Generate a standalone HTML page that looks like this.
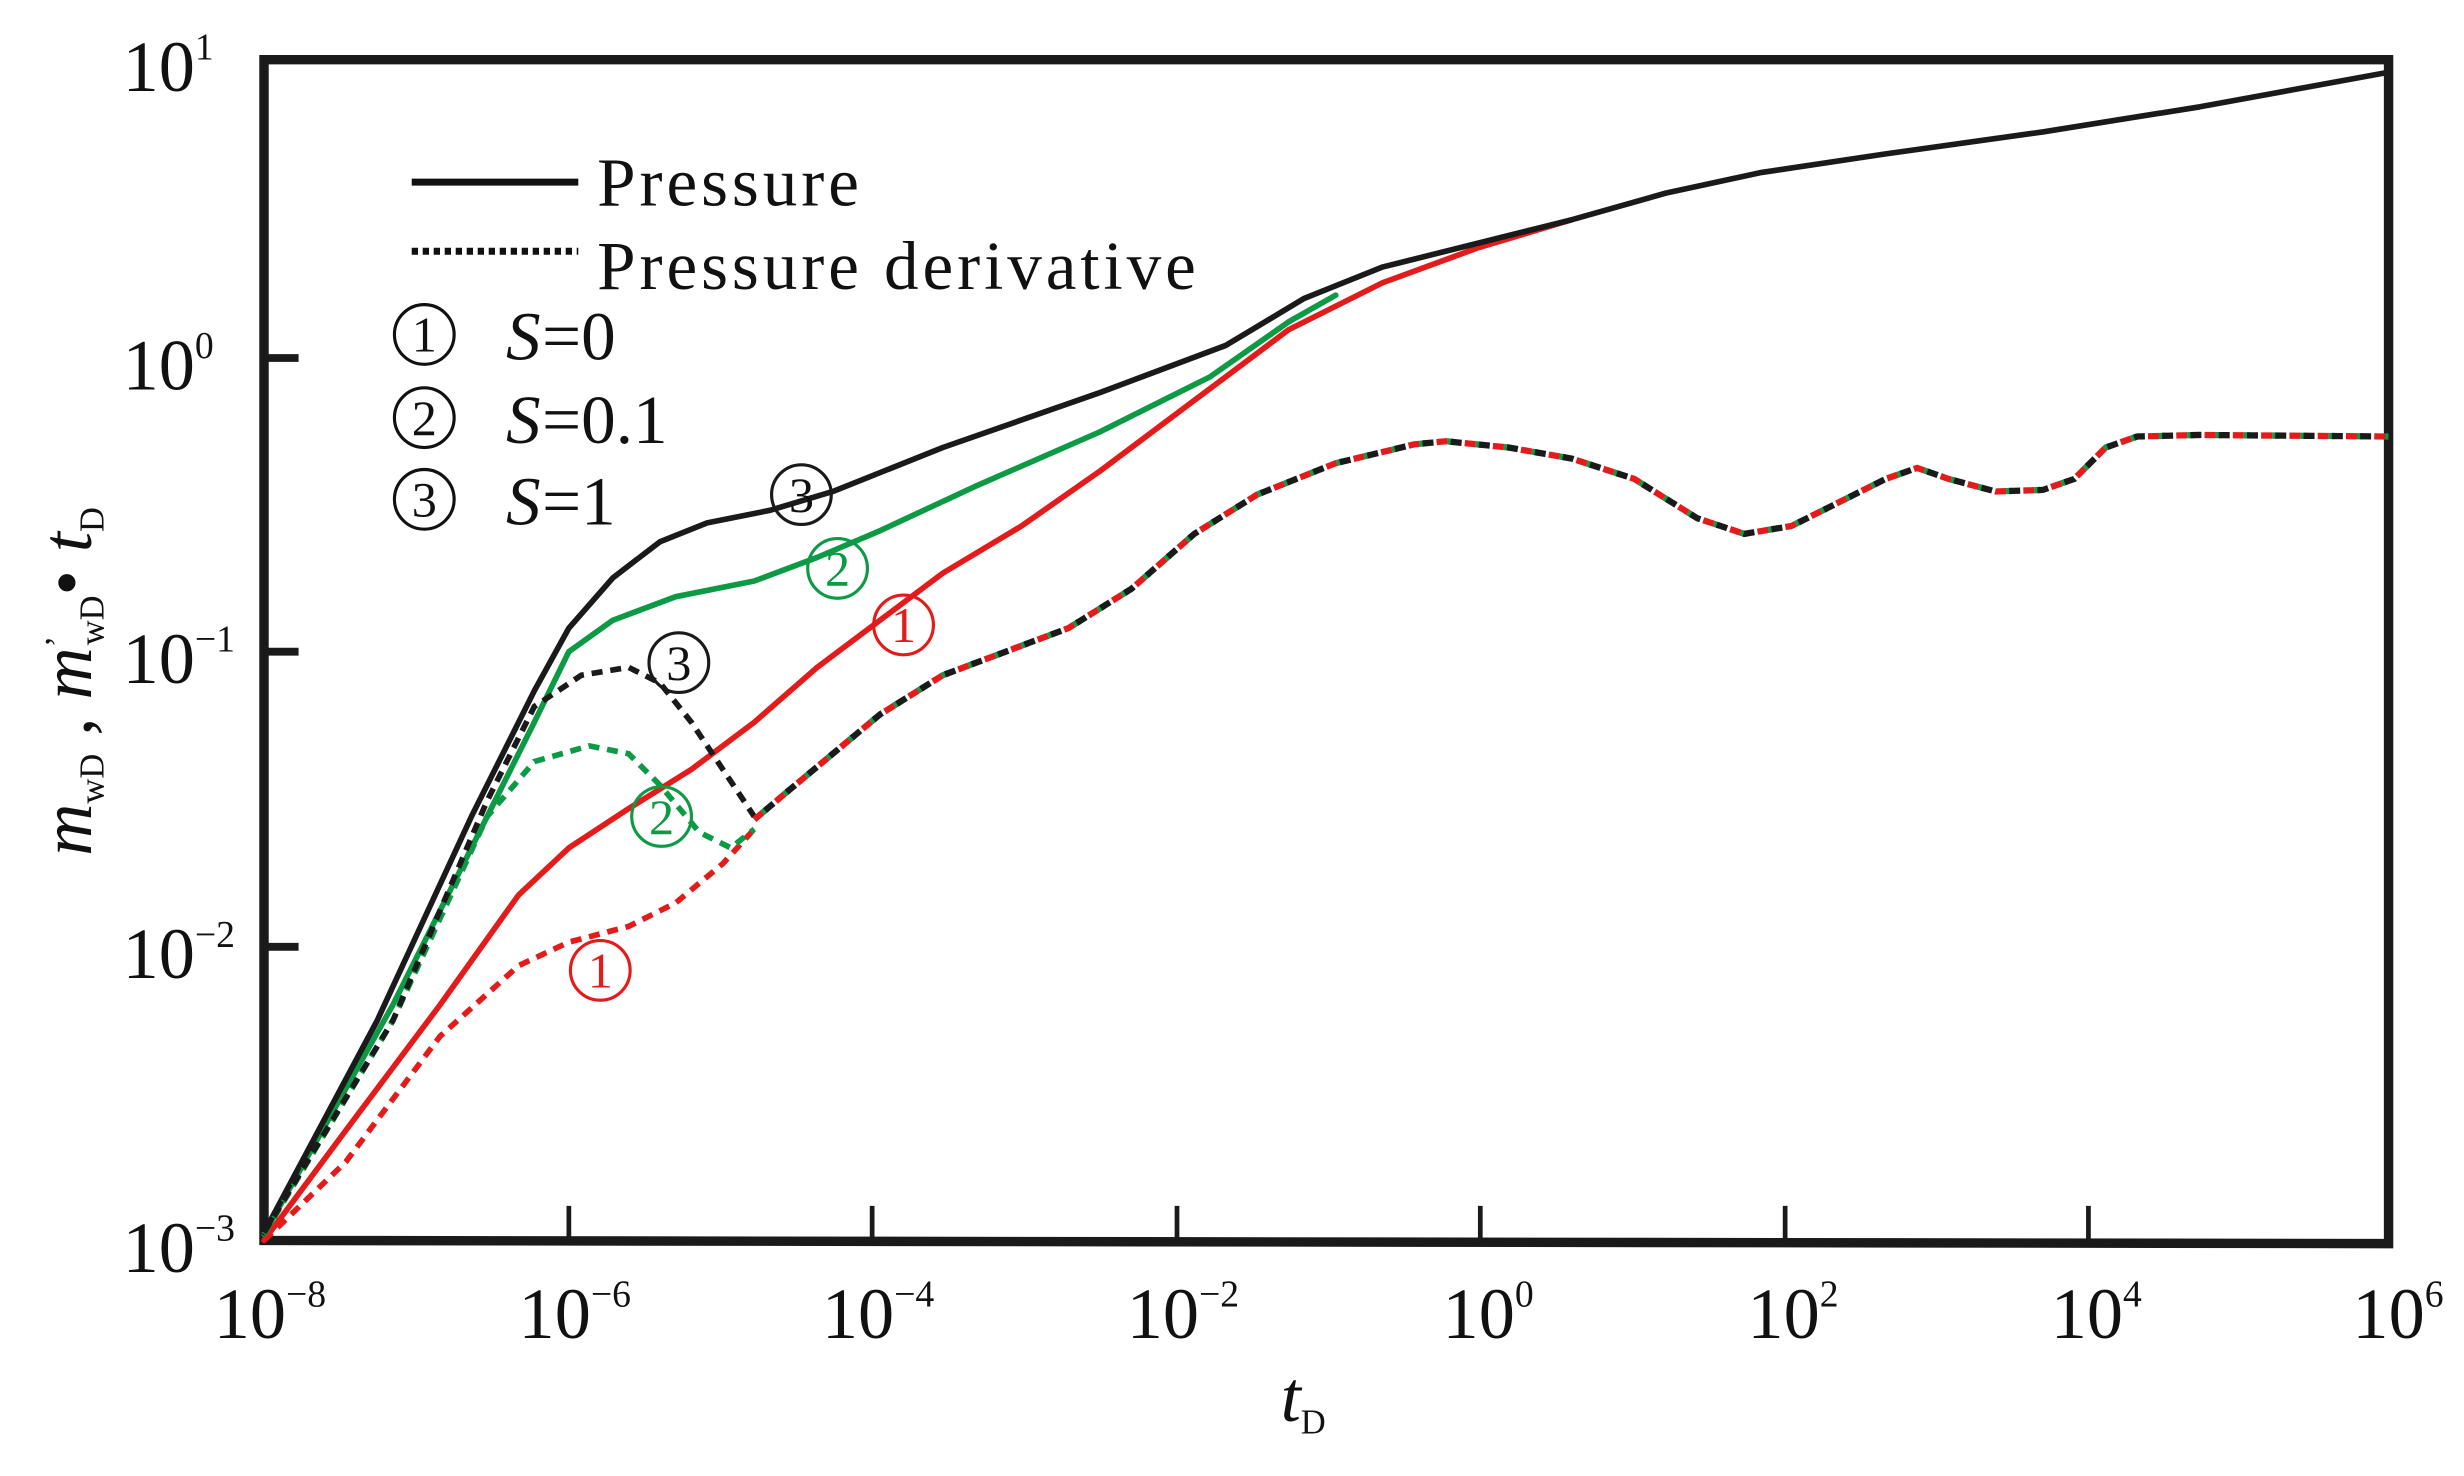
<!DOCTYPE html>
<html><head><meta charset="utf-8"><style>
html,body{margin:0;padding:0;background:#fff;}
svg{display:block;}
text{font-family:"Liberation Serif",serif;fill:#111;}
</style></head><body>
<svg width="2464" height="1476" viewBox="0 0 1568 940" preserveAspectRatio="none" xmlns="http://www.w3.org/2000/svg">
<defs>
<g id="cn"><circle r="19" fill="none" stroke-width="2"/></g>
</defs>
<rect width="1568" height="940" fill="#fff"/>
<!-- frame -->
<path d="M168,38 L1520,38 L1520,792 L168,790 Z" fill="none" stroke="#1a1a1a" stroke-width="6"/>
<g stroke="#1a1a1a" stroke-width="3">
<path d="M362,790V768M555,790V768M749,790V768M942,790V768M1136,790V768M1329,790V768"/>
<path d="M168,228H190M168,415H190M168,603H190" stroke-width="5"/>
</g>
<g font-size="46">
<text x="78" y="58">10<tspan font-size="24" dy="-20">1</tspan></text>
<text x="78" y="248">10<tspan font-size="24" dy="-20">0</tspan></text>
<text x="78" y="435">10<tspan font-size="24" dy="-20">−1</tspan></text>
<text x="78" y="623">10<tspan font-size="24" dy="-20">−2</tspan></text>
<text x="78" y="810">10<tspan font-size="24" dy="-20">−3</tspan></text>
</g>
<g font-size="46">
<text x="136" y="852">10<tspan font-size="24" dy="-20">−8</tspan></text>
<text x="330" y="852">10<tspan font-size="24" dy="-20">−6</tspan></text>
<text x="523" y="852">10<tspan font-size="24" dy="-20">−4</tspan></text>
<text x="717" y="852">10<tspan font-size="24" dy="-20">−2</tspan></text>
<text x="918" y="852">10<tspan font-size="24" dy="-20">0</tspan></text>
<text x="1112" y="852">10<tspan font-size="24" dy="-20">2</tspan></text>
<text x="1305" y="852">10<tspan font-size="24" dy="-20">4</tspan></text>
<text x="1497" y="852">10<tspan font-size="24" dy="-20">6</tspan></text>
</g>
<text x="815" y="905" font-size="46" font-style="italic">t<tspan font-size="22" font-style="normal" dy="8">D</tspan></text>
<text transform="translate(58,545) rotate(-90)" font-size="46"><tspan font-style="italic">m</tspan><tspan font-size="22" dy="8">wD</tspan><tspan dy="-8"> , </tspan><tspan font-style="italic">m</tspan><tspan font-size="22" dy="-14">’</tspan><tspan font-size="22" dy="22" dx="-6">wD</tspan><tspan dy="-8">• </tspan><tspan font-style="italic">t</tspan><tspan font-size="22" dy="8">D</tspan></text>
<!-- legend -->
<line x1="262" y1="116" x2="368" y2="116" stroke="#111" stroke-width="4.5"/>
<line x1="262" y1="160" x2="368" y2="160" stroke="#111" stroke-width="4.5" stroke-dasharray="4,3"/>
<g font-size="44" letter-spacing="2.5">
<text x="380" y="131">Pressure</text>
<text x="380" y="184">Pressure  derivative</text>
</g>
<g font-size="40" stroke="#111">
<use href="#cn" x="270" y="213"/><use href="#cn" x="270" y="266"/><use href="#cn" x="270" y="318"/>
</g>
<g font-size="32" text-anchor="middle">
<text x="270" y="224">1</text><text x="270" y="277">2</text><text x="270" y="329">3</text>
</g>
<g font-size="44">
<text x="322" y="229" font-style="italic">S</text><text x="345" y="229">=0</text>
<text x="322" y="282" font-style="italic">S</text><text x="345" y="282">=0.1</text>
<text x="322" y="334" font-style="italic">S</text><text x="345" y="334">=1</text>
</g>
<!-- pressure curves -->
<g fill="none" stroke-width="3.6" stroke-linejoin="round" stroke-linecap="round">
<polyline stroke="#e31b1b" points="168,790 220,720 280,640 330,570 362,540 400,515 440,490 480,460 520,425 560,395 600,365 650,335 700,300 760,255 820,210 880,180 940,158 1000,140"/>
<polyline stroke="#0d9a45" points="168,786 250,640 310,520 340,460 362,415 390,395 430,380 480,370 520,355 560,338 620,310 700,275 770,240 820,205 850,188"/>
<polyline stroke="#1a1a1a" points="168,785 240,650 300,520 340,440 362,400 390,368 420,345 450,333 490,325 530,313 600,285 700,250 780,220 830,190 880,170 940,155 1000,140 1060,123 1120,110 1200,98 1300,84 1400,68 1520,46"/>
</g>
<g fill="none" stroke-width="3.6" stroke-dasharray="7,5">
<polyline stroke="#e31b1b" points="168,790 220,740 280,660 330,615 362,600 400,590 430,575 460,550 480,528"/>
<polyline stroke="#0d9a45" points="168,786 250,650 310,520 340,485 375,475 400,480 420,500 445,530 465,540 480,528"/>
<polyline stroke="#1a1a1a" points="168,785 250,650 310,510 340,450 370,430 400,425 420,435 440,460 460,490 480,520"/>
</g>
<g fill="none" stroke-width="4">
<polyline stroke="#e31b1b" stroke-dasharray="7,11" points="480,522 500,505 530,480 560,455 600,430 640,415 680,400 720,375 760,340 800,315 850,295 900,283 920,281 960,285 1000,292 1040,305 1080,330 1110,340 1140,335 1170,320 1200,305 1220,298 1240,305 1270,313 1300,312 1320,305 1340,285 1360,278 1400,277 1520,278"/>
<polyline stroke="#0d9a45" stroke-dasharray="4,14" stroke-dashoffset="-7" points="480,522 500,505 530,480 560,455 600,430 640,415 680,400 720,375 760,340 800,315 850,295 900,283 920,281 960,285 1000,292 1040,305 1080,330 1110,340 1140,335 1170,320 1200,305 1220,298 1240,305 1270,313 1300,312 1320,305 1340,285 1360,278 1400,277 1520,278"/>
<polyline stroke="#1a1a1a" stroke-dasharray="7,11" stroke-dashoffset="9" points="480,522 500,505 530,480 560,455 600,430 640,415 680,400 720,375 760,340 800,315 850,295 900,283 920,281 960,285 1000,292 1040,305 1080,330 1110,340 1140,335 1170,320 1200,305 1220,298 1240,305 1270,313 1300,312 1320,305 1340,285 1360,278 1400,277 1520,278"/>
</g>
<!-- annotations -->
<g>
<use href="#cn" x="510" y="315" stroke="#1a1a1a"/>
<use href="#cn" x="533" y="362" stroke="#0d9a45"/>
<use href="#cn" x="575" y="398" stroke="#e31b1b"/>
<use href="#cn" x="432" y="422" stroke="#1a1a1a"/>
<use href="#cn" x="421" y="520" stroke="#0d9a45"/>
<use href="#cn" x="382" y="618" stroke="#e31b1b"/>
</g>
<g font-size="32" text-anchor="middle">
<text x="510" y="326">3</text>
<text x="533" y="373" style="fill:#0d9a45">2</text>
<text x="575" y="409" style="fill:#e31b1b">1</text>
<text x="432" y="433">3</text>
<text x="421" y="531" style="fill:#0d9a45">2</text>
<text x="382" y="629" style="fill:#e31b1b">1</text>
</g>
</svg>
</body></html>
